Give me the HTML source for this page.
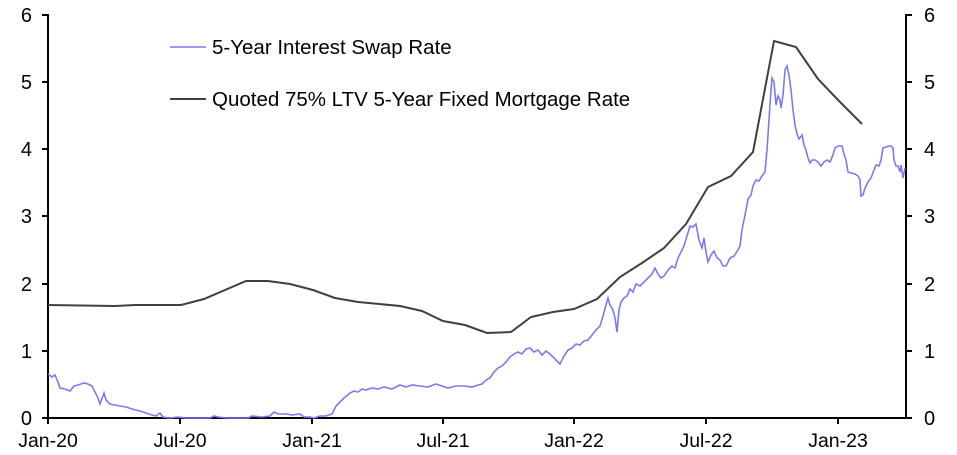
<!DOCTYPE html>
<html><head><meta charset="utf-8"><style>
html,body{margin:0;padding:0;background:#fff;}
svg{display:block;font-family:"Liberation Sans",Arial,sans-serif;}
</style></head><body>
<svg width="957" height="455" viewBox="0 0 957 455" xmlns="http://www.w3.org/2000/svg">
<g stroke="#000" stroke-width="2" fill="none">
<line x1="48" y1="14" x2="48" y2="418"/>
<line x1="906" y1="14" x2="906" y2="418"/>
<line x1="48" y1="418" x2="906" y2="418"/>
<line x1="42" y1="418" x2="48" y2="418"/><line x1="42" y1="351" x2="48" y2="351"/><line x1="42" y1="284" x2="48" y2="284"/><line x1="42" y1="216" x2="48" y2="216"/><line x1="42" y1="149" x2="48" y2="149"/><line x1="42" y1="82" x2="48" y2="82"/><line x1="42" y1="15" x2="48" y2="15"/>
<line x1="906" y1="418" x2="912" y2="418"/><line x1="906" y1="351" x2="912" y2="351"/><line x1="906" y1="284" x2="912" y2="284"/><line x1="906" y1="216" x2="912" y2="216"/><line x1="906" y1="149" x2="912" y2="149"/><line x1="906" y1="82" x2="912" y2="82"/><line x1="906" y1="15" x2="912" y2="15"/>
<line x1="48" y1="418" x2="48" y2="424"/><line x1="180" y1="418" x2="180" y2="424"/><line x1="312" y1="418" x2="312" y2="424"/><line x1="443" y1="418" x2="443" y2="424"/><line x1="574" y1="418" x2="574" y2="424"/><line x1="706" y1="418" x2="706" y2="424"/><line x1="838" y1="418" x2="838" y2="424"/>
</g>
<g font-size="20" fill="#000" text-anchor="end">
<text x="32" y="425">0</text><text x="32" y="358">1</text><text x="32" y="291">2</text><text x="32" y="223">3</text><text x="32" y="156">4</text><text x="32" y="89">5</text><text x="32" y="22">6</text>
</g>
<g font-size="20" fill="#000" text-anchor="start">
<text x="924" y="425">0</text><text x="924" y="358">1</text><text x="924" y="291">2</text><text x="924" y="223">3</text><text x="924" y="156">4</text><text x="924" y="89">5</text><text x="924" y="22">6</text>
</g>
<g font-size="19.5" fill="#000" text-anchor="middle">
<text x="48" y="447">Jan-20</text><text x="180" y="447">Jul-20</text><text x="312" y="447">Jan-21</text><text x="443" y="447">Jul-21</text><text x="574" y="447">Jan-22</text><text x="706" y="447">Jul-22</text><text x="838" y="447">Jan-23</text>
</g>
<polyline fill="none" stroke="#7b7bf0" stroke-width="1.6" points="48,374 52,377 55,375 58,382 60,388 65,389 70,391 74,386 78,385 84,383 88,384 92,386 95,392 98,398 100,404 103,396 104,393 106,400 110,404 115,405 120,406 126,407 132,409 140,411 146,413 152,415 156,416 160,413 163,417 170,418 178,417 186,418 196,418 210,418 214,416 218,417 228,418 248,418 252,416 262,417 270,416 274,412 278,414 286,414 292,415 300,414 304,417 310,417 314,418 320,416 326,416 332,414 336,406 340,402 344,398 350,393 354,391 358,392 362,389 366,390 372,388 378,389 384,387 392,389 400,385 406,387 412,385 420,386 428,387 436,384 442,386 448,388 456,386 464,386 472,387 478,385 482,384 486,380 490,378 494,372 498,368 502,366 506,362 510,357 514,354 518,352 522,354 526,349 530,348 534,352 538,350 542,355 546,351 550,354 556,360 560,364 564,356 568,350 572,348 576,344 580,345 584,341 588,340 592,335 596,330 600,326 603,316 606,305 608,298 610,305 613,310 615,318 617,332 619,310 621,302 624,298 627,296 630,289 633,292 636,284 640,286 644,282 648,278 652,274 655,268 658,274 661,278 664,276 668,270 672,266 675,268 678,258 681,252 684,246 687,236 690,226 693,227 696,224 699,240 702,248 704,238 706,252 708,262 711,255 714,251 717,258 720,260 723,266 726,266 730,258 734,256 738,250 740,246 742,230 744,220 746,210 748,199 751,195 753,186 756,180 759,181 762,176 765,172 767,150 769,120 771,90 772,78 774,82 776,105 778,96 780,100 781,108 783,95 785,70 787,66 789,75 791,90 793,110 795,125 797,134 799,139 802,135 804,145 806,150 808,158 810,163 812,160 815,160 818,162 821,166 824,162 827,160 830,162 833,155 835,148 838,146 842,146 844,154 846,160 848,172 851,173 855,174 858,176 860,180 861,196 863,195 865,188 868,182 871,178 874,170 876,165 879,166 881,160 883,148 886,147 889,146 891,146 893,148 894,160 896,166 898,166 900,172 901,165 903,178 905,168"/>
<polyline fill="none" stroke="#404040" stroke-width="2" points="48,305 115,306 135,305 181,305 204,299 246,281 268,281 290,284 313,290 335,298 358,302 400,306 422,311 443,321 465,325 487,333 511,332 531,317 553,312 574,309 597,299 620,277 642,263 664,248 686,224 708,187 731,176 753,152 774,41 796,47 818,79 840,102 862,124"/>
<line x1="170" y1="47" x2="206" y2="47" stroke="#7b7bf0" stroke-width="1.6"/>
<text x="212" y="54" font-size="20.5">5-Year Interest Swap Rate</text>
<line x1="170" y1="99" x2="206" y2="99" stroke="#404040" stroke-width="2"/>
<text x="212" y="106" font-size="20.5">Quoted 75% LTV 5-Year Fixed Mortgage Rate</text>
</svg>
</body></html>
